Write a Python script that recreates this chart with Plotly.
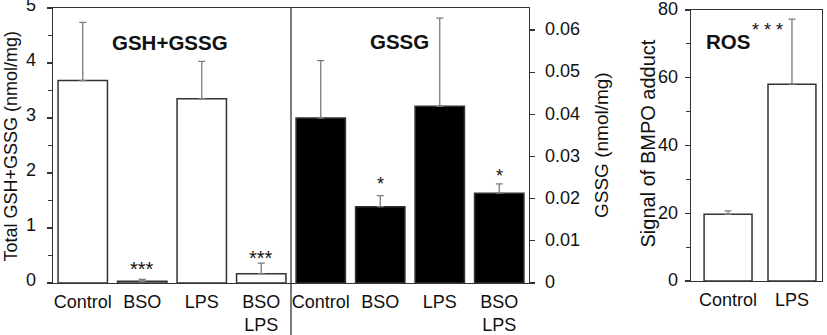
import plotly.graph_objects as go

# ---------------- data ----------------
groups = ["Control", "BSO", "LPS", "BSO<br>LPS"]
total_gsh = [3.68, 0.03, 3.35, 0.17]
total_gsh_err = [1.06, 0.035, 0.68, 0.19]
gssg = [0.0391, 0.0181, 0.0419, 0.0213]
gssg_err = [0.0136, 0.0026, 0.0209, 0.0022]
ros_groups = ["Control", "LPS"]
ros = [19.7, 58.1]
ros_err = [1.0, 19.2]

panel_titles = ["GSH+GSSG", "GSSG", "ROS"]
sig_total = ["", "***", "", "***"]
sig_gssg = ["", "*", "", "*"]
sig_ros = ["", "* * *"]

# ---------------- layout helpers ----------------
W, H = 827, 335
FONT = "Liberation Sans, Arial, sans-serif"
INK = "#111111"
LINE = "#333333"
ERR = "#7a7a7a"


def px(x):
    return x / W


def py(y):
    return (H - y) / H


fig = go.Figure()

err_style = dict(type="data", symmetric=False, color=ERR, thickness=1.3, width=3.5)

fig.add_trace(go.Bar(
    x=groups, y=total_gsh, width=0.83,
    marker=dict(color="white", line=dict(color=LINE, width=1.5)),
    error_y=dict(array=total_gsh_err, arrayminus=[0] * len(groups), **err_style),
    xaxis="x", yaxis="y",
))
fig.add_trace(go.Bar(
    x=groups, y=gssg, width=0.83,
    marker=dict(color="black", line=dict(color=LINE, width=1.5)),
    error_y=dict(array=gssg_err, arrayminus=[0] * len(groups), **err_style),
    xaxis="x2", yaxis="y2",
))
fig.add_trace(go.Bar(
    x=ros_groups, y=ros, width=0.75,
    marker=dict(color="white", line=dict(color=LINE, width=1.5)),
    error_y=dict(array=ros_err, arrayminus=[0] * len(ros_groups), **err_style),
    xaxis="x3", yaxis="y3",
))

tickfont = dict(family=FONT, size=18, color=INK)
xcommon = dict(showline=True, mirror=True, linecolor=LINE, linewidth=1.3,
               ticks="", tickfont=tickfont, showgrid=False, zeroline=False,
               fixedrange=True, automargin=False, type="category",
               ticklabeloverflow="allow", ticklabelstandoff=2)
ycommon = dict(showline=True, linecolor=LINE, linewidth=1.3, ticks="outside",
               ticklen=5, tickwidth=1.2, tickcolor=LINE, tickfont=tickfont,
               showgrid=False, zeroline=False, automargin=False, fixedrange=True,
               ticklabeloverflow="allow")

fig.update_layout(
    width=W, height=H,
    margin=dict(l=0, r=0, t=0, b=0),
    paper_bgcolor="white", plot_bgcolor="white",
    showlegend=False,
    font=dict(family=FONT, color=INK),
    xaxis=dict(domain=[px(53), px(291)], range=[-0.5, 3.5], anchor="y", **xcommon),
    yaxis=dict(domain=[py(283), py(8)], range=[0, 5], dtick=1, anchor="x",
               ticklabelstandoff=7, ticklabelshift=-3,
               minor=dict(dtick=0.5, ticks="outside", ticklen=4, tickcolor=LINE),
               **ycommon),
    xaxis2=dict(domain=[px(291), px(529)], range=[-0.5, 3.5], anchor="y2", **xcommon),
    yaxis2=dict(domain=[py(283), py(8)], range=[0, 0.0652], dtick=0.01, anchor="x2",
                side="right", ticklabelstandoff=6, ticklabelshift=-1, **ycommon),
    xaxis3=dict(domain=[px(691), px(822)], range=[-0.58, 1.47], anchor="y3", **xcommon),
    yaxis3=dict(domain=[py(281), py(10)], range=[0, 80], dtick=20, anchor="x3",
                mirror=True, ticklabelstandoff=3, ticklabelshift=-1,
                minor=dict(dtick=10, ticks="outside", ticklen=4, tickcolor=LINE),
                **ycommon),
)

# divider between first and second panel
fig.add_shape(type="line", xref="paper", yref="paper",
              x0=px(291), x1=px(291), y0=0, y1=py(8),
              line=dict(color=LINE, width=1.3))

ann = []
# panel titles
for t, (xc, yc) in zip(panel_titles, [(169.5, 42.5), (399, 42), (728, 41.5)]):
    ann.append(dict(text=f"<b>{t}</b>", x=px(xc), y=py(yc), xref="paper", yref="paper",
                    showarrow=False, font=dict(family=FONT, size=20.5, color=INK),
                    xanchor="center", yanchor="middle"))

# axis titles
for txt, xc, yc, fs in [("Total GSH+GSSG (nmol/mg)", 10, 146.5, 18),
                        ("GSSG (nmol/mg)", 601, 145, 19),
                        ("Signal of BMPO adduct", 647, 143.5, 20)]:
    ann.append(dict(text=txt, x=px(xc), y=py(yc), xref="paper", yref="paper",
                    textangle=-90, showarrow=False, xanchor="center", yanchor="middle",
                    font=dict(family=FONT, size=fs, color=INK)))

# significance marks
shifts_total = [0, 10, 0, 5]
for g, v, e, s, sh in zip(groups, total_gsh, total_gsh_err, sig_total, shifts_total):
    if s:
        ann.append(dict(text=s, x=g, y=v + e, xref="x", yref="y", yshift=sh,
                        showarrow=False, xanchor="center", yanchor="middle",
                        font=dict(family=FONT, size=20, color=INK)))
shifts_gssg = [0, 12, 0, 8]
for g, v, e, s, sh in zip(groups, gssg, gssg_err, sig_gssg, shifts_gssg):
    if s:
        ann.append(dict(text=s, x=g, y=v + e, xref="x2", yref="y2", yshift=sh,
                        showarrow=False, xanchor="center", yanchor="middle",
                        font=dict(family=FONT, size=18, color=INK)))
for g, v, e, s in zip(ros_groups, ros, ros_err, sig_ros):
    if s:
        ann.append(dict(text=s, x=g, y=v + e, xref="x3", yref="y3", yshift=-11,
                        xshift=-24, showarrow=False, xanchor="center", yanchor="middle",
                        font=dict(family=FONT, size=18, color=INK)))

fig.update_layout(annotations=ann)

# remove the default page margin so the figure fills the window from (0, 0)
fig.write_html("out.html", config={"displayModeBar": False, "staticPlot": True},
               post_script="document.body.style.margin='0';")
